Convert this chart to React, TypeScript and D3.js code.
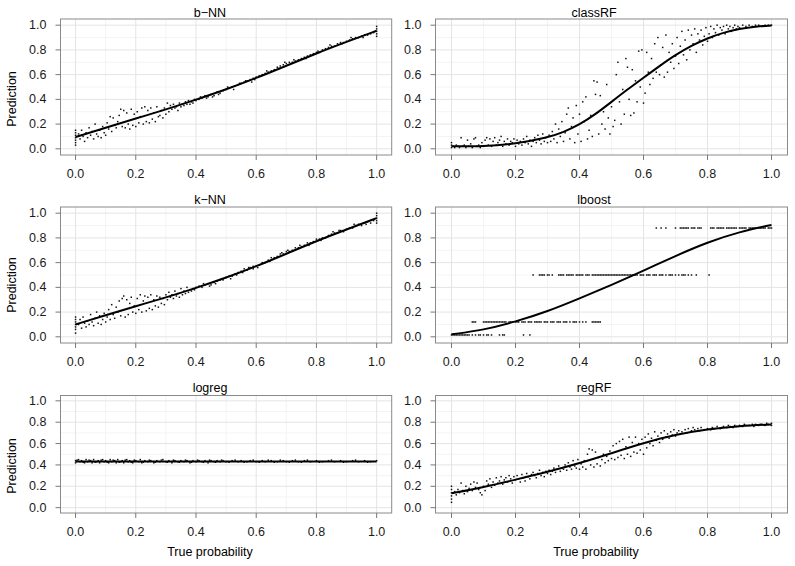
import React from "react";
import * as d3 from "d3";

type P = [number, number];

const TITLES = ["b\u2212NN", "classRF", "k\u2212NN", "lboost", "logreg", "regRF"];
const TICKS = [0, 0.2, 0.4, 0.6, 0.8, 1.0];
const MINOR = [0.1, 0.3, 0.5, 0.7, 0.9];
const X_LABEL = "True probability";
const Y_LABEL = "Prediction";

// ---------- smooth lines ----------
const bnnLine: P[] = [[0, 0.095], [0.1, 0.17], [0.2, 0.245], [0.3, 0.318], [0.4, 0.397], [0.5, 0.48], [0.6, 0.572], [0.7, 0.672], [0.8, 0.772], [0.9, 0.865], [1, 0.955]];
const knnLine: P[] = [[0, 0.1], [0.1, 0.175], [0.2, 0.248], [0.3, 0.318], [0.4, 0.395], [0.5, 0.478], [0.6, 0.57], [0.7, 0.672], [0.8, 0.775], [0.9, 0.868], [1, 0.96]];
const classRFLine: P[] = [[0, 0.02], [0.1, 0.02], [0.2, 0.04], [0.3, 0.09], [0.35, 0.135], [0.4, 0.195], [0.45, 0.28], [0.5, 0.38], [0.55, 0.48], [0.6, 0.575], [0.65, 0.67], [0.7, 0.76], [0.75, 0.835], [0.8, 0.895], [0.85, 0.94], [0.9, 0.97], [0.95, 0.99], [1, 0.997]];
const lboostLine: P[] = [[0, 0.02], [0.1, 0.055], [0.2, 0.122], [0.3, 0.205], [0.4, 0.31], [0.5, 0.42], [0.6, 0.534], [0.7, 0.655], [0.8, 0.765], [0.9, 0.85], [1, 0.905]];
const logregLine: P[] = [[0, 0.432], [0.5, 0.432], [1, 0.432]];
const regRFLine: P[] = [[0, 0.134], [0.1, 0.192], [0.2, 0.262], [0.3, 0.334], [0.4, 0.415], [0.5, 0.51], [0.6, 0.605], [0.7, 0.685], [0.8, 0.735], [0.9, 0.765], [1, 0.779]];

// ---------- points ----------
const bnnPts: P[] = [
  [0, 0.03], [0, 0.05], [0, 0.07], [0, 0.09], [0, 0.11], [0, 0.13], [0, 0.15],
  [0.01, 0.12], [0.015, 0.08], [0.02, 0.15], [0.025, 0.1], [0.03, 0.06], [0.035, 0.13], [0.04, 0.09], [0.045, 0.17], [0.05, 0.11], [0.055, 0.14], [0.06, 0.08], [0.065, 0.2], [0.07, 0.12], [0.075, 0.1], [0.08, 0.15], [0.085, 0.09], [0.09, 0.18], [0.095, 0.13], [0.1, 0.11],
  [0.105, 0.21], [0.11, 0.16], [0.115, 0.26], [0.12, 0.14], [0.125, 0.25], [0.13, 0.19], [0.135, 0.17], [0.14, 0.22], [0.145, 0.27], [0.15, 0.32], [0.155, 0.18], [0.16, 0.31], [0.165, 0.17], [0.17, 0.29], [0.175, 0.2], [0.18, 0.16], [0.185, 0.32], [0.19, 0.19], [0.195, 0.28], [0.2, 0.18],
  [0.205, 0.3], [0.21, 0.21], [0.215, 0.26], [0.22, 0.33], [0.225, 0.2], [0.23, 0.34], [0.235, 0.22], [0.24, 0.31], [0.245, 0.21], [0.25, 0.33], [0.255, 0.24], [0.26, 0.29], [0.265, 0.22], [0.27, 0.34], [0.275, 0.26], [0.28, 0.27], [0.285, 0.31], [0.29, 0.25], [0.295, 0.33], [0.3, 0.28],
  [0.305, 0.37], [0.31, 0.3], [0.315, 0.35], [0.32, 0.32], [0.325, 0.36], [0.33, 0.33], [0.335, 0.34], [0.34, 0.31], [0.345, 0.37], [0.35, 0.34], [0.355, 0.36], [0.36, 0.35], [0.365, 0.38], [0.37, 0.36], [0.375, 0.39], [0.38, 0.36], [0.385, 0.38], [0.39, 0.37], [0.395, 0.4], [0.4, 0.39],
  [0.41, 0.4], [0.42, 0.41], [0.43, 0.43], [0.44, 0.42], [0.45, 0.44], [0.46, 0.43], [0.47, 0.46], [0.48, 0.45], [0.49, 0.47], [0.5, 0.48], [0.51, 0.49], [0.52, 0.5], [0.53, 0.51], [0.54, 0.52], [0.55, 0.53], [0.56, 0.54], [0.57, 0.55], [0.58, 0.56], [0.59, 0.57], [0.6, 0.58],
  [0.415, 0.42], [0.435, 0.41], [0.455, 0.42], [0.475, 0.44], [0.505, 0.5], [0.525, 0.48], [0.545, 0.53], [0.565, 0.55], [0.585, 0.54], [0.595, 0.56],
  [0.61, 0.59], [0.62, 0.6], [0.63, 0.61], [0.64, 0.62], [0.65, 0.63], [0.66, 0.64], [0.67, 0.66], [0.68, 0.67], [0.69, 0.68], [0.7, 0.69], [0.71, 0.7], [0.72, 0.7], [0.73, 0.71], [0.74, 0.72], [0.75, 0.73], [0.76, 0.74], [0.77, 0.75], [0.78, 0.76], [0.79, 0.77], [0.8, 0.78],
  [0.81, 0.78], [0.82, 0.8], [0.83, 0.81], [0.84, 0.82], [0.85, 0.83], [0.86, 0.83], [0.87, 0.85], [0.88, 0.86], [0.89, 0.86], [0.9, 0.87], [0.91, 0.88], [0.92, 0.89], [0.93, 0.9], [0.94, 0.9], [0.95, 0.91], [0.96, 0.92], [0.97, 0.92], [0.98, 0.93], [0.99, 0.94],
  [0.635, 0.63], [0.675, 0.65], [0.695, 0.7], [0.725, 0.72], [0.765, 0.73], [0.805, 0.79], [0.845, 0.84], [0.885, 0.85], [0.915, 0.9], [0.955, 0.9],
  [1, 0.91], [1, 0.93], [1, 0.95], [1, 0.97], [1, 0.99],
];

const knnPts: P[] = [
  [0, 0.03], [0, 0.06], [0, 0.08], [0, 0.1], [0, 0.12], [0, 0.14], [0, 0.16],
  [0.01, 0.1], [0.015, 0.14], [0.02, 0.07], [0.025, 0.16], [0.03, 0.11], [0.035, 0.08], [0.04, 0.13], [0.045, 0.1], [0.05, 0.18], [0.055, 0.12], [0.06, 0.09], [0.065, 0.15], [0.07, 0.2], [0.075, 0.11], [0.08, 0.17], [0.085, 0.1], [0.09, 0.14], [0.095, 0.19], [0.1, 0.12],
  [0.105, 0.16], [0.11, 0.22], [0.115, 0.14], [0.12, 0.26], [0.125, 0.18], [0.13, 0.15], [0.135, 0.24], [0.14, 0.2], [0.145, 0.29], [0.15, 0.17], [0.155, 0.31], [0.16, 0.33], [0.165, 0.16], [0.17, 0.3], [0.175, 0.18], [0.18, 0.27], [0.185, 0.32], [0.19, 0.2], [0.195, 0.25], [0.2, 0.19],
  [0.205, 0.31], [0.21, 0.22], [0.215, 0.34], [0.22, 0.2], [0.225, 0.29], [0.23, 0.33], [0.235, 0.21], [0.24, 0.32], [0.245, 0.23], [0.25, 0.34], [0.255, 0.22], [0.26, 0.3], [0.265, 0.25], [0.27, 0.33], [0.275, 0.24], [0.28, 0.32], [0.285, 0.27], [0.29, 0.31], [0.295, 0.26], [0.3, 0.34],
  [0.305, 0.3], [0.31, 0.36], [0.315, 0.32], [0.32, 0.34], [0.325, 0.31], [0.33, 0.37], [0.335, 0.33], [0.34, 0.35], [0.345, 0.32], [0.35, 0.39], [0.355, 0.34], [0.36, 0.37], [0.365, 0.35], [0.37, 0.4], [0.375, 0.36], [0.38, 0.38], [0.385, 0.37], [0.39, 0.39], [0.395, 0.38], [0.4, 0.4],
  [0.41, 0.41], [0.42, 0.4], [0.43, 0.42], [0.44, 0.43], [0.45, 0.42], [0.46, 0.44], [0.47, 0.45], [0.48, 0.46], [0.49, 0.46], [0.5, 0.48], [0.51, 0.49], [0.52, 0.49], [0.53, 0.51], [0.54, 0.52], [0.55, 0.53], [0.56, 0.55], [0.57, 0.54], [0.58, 0.56], [0.59, 0.57], [0.6, 0.57],
  [0.425, 0.43], [0.445, 0.41], [0.465, 0.43], [0.485, 0.47], [0.515, 0.47], [0.535, 0.5], [0.555, 0.52], [0.575, 0.56], [0.59, 0.55], [0.605, 0.56],
  [0.61, 0.58], [0.62, 0.6], [0.63, 0.6], [0.64, 0.62], [0.65, 0.64], [0.66, 0.64], [0.67, 0.65], [0.68, 0.67], [0.69, 0.67], [0.7, 0.69], [0.71, 0.69], [0.72, 0.7], [0.73, 0.72], [0.74, 0.72], [0.75, 0.73], [0.76, 0.74], [0.77, 0.76], [0.78, 0.76], [0.79, 0.77], [0.8, 0.79],
  [0.81, 0.79], [0.82, 0.8], [0.83, 0.8], [0.84, 0.82], [0.85, 0.83], [0.86, 0.84], [0.87, 0.84], [0.88, 0.86], [0.89, 0.85], [0.9, 0.87], [0.91, 0.88], [0.92, 0.88], [0.93, 0.9], [0.94, 0.91], [0.95, 0.9], [0.96, 0.92], [0.97, 0.93], [0.98, 0.92], [0.99, 0.94],
  [0.645, 0.61], [0.685, 0.68], [0.705, 0.7], [0.745, 0.74], [0.775, 0.74], [0.815, 0.78], [0.855, 0.85], [0.875, 0.86], [0.925, 0.91], [0.965, 0.91],
  [1, 0.92], [1, 0.94], [1, 0.96], [1, 0.98], [1, 1.0],
];

const classRFPts: P[] = [
  [0, 0.01], [0, 0.03], [0, 0.05], [0.005, 0.02], [0.01, 0.01], [0.015, 0.03], [0.02, 0.02], [0.025, 0.01], [0.03, 0.09], [0.035, 0.02], [0.04, 0.03], [0.045, 0.01], [0.05, 0.07], [0.055, 0.02], [0.06, 0.04], [0.065, 0.01], [0.07, 0.08], [0.075, 0.09], [0.08, 0.02], [0.085, 0.03], [0.09, 0.01], [0.095, 0.05], [0.1, 0.02],
  [0.105, 0.07], [0.11, 0.09], [0.115, 0.03], [0.12, 0.08], [0.125, 0.02], [0.13, 0.06], [0.135, 0.09], [0.14, 0.03], [0.145, 0.05], [0.15, 0.07], [0.155, 0.1], [0.16, 0.02], [0.165, 0.06], [0.17, 0.04], [0.175, 0.08], [0.18, 0.03], [0.185, 0.06], [0.19, 0.05], [0.195, 0.08], [0.2, 0.02],
  [0.205, 0.07], [0.21, 0.04], [0.215, 0.06], [0.22, 0.03], [0.225, 0.08], [0.23, 0.05], [0.235, 0.1], [0.24, 0.04], [0.245, 0.07], [0.25, 0.02], [0.255, 0.06], [0.26, 0.09], [0.265, 0.05], [0.27, 0.11], [0.275, 0.07], [0.28, 0.04], [0.285, 0.12], [0.29, 0.06], [0.295, 0.09], [0.3, 0.05],
  [0.305, 0.11], [0.31, 0.06], [0.315, 0.14], [0.32, 0.08], [0.325, 0.2], [0.33, 0.05], [0.335, 0.16], [0.34, 0.1], [0.345, 0.22], [0.35, 0.06], [0.355, 0.13], [0.36, 0.28], [0.365, 0.33], [0.37, 0.08], [0.375, 0.18], [0.38, 0.25], [0.385, 0.05], [0.39, 0.35], [0.395, 0.12], [0.4, 0.28],
  [0.405, 0.06], [0.41, 0.38], [0.415, 0.22], [0.42, 0.42], [0.425, 0.08], [0.43, 0.15], [0.435, 0.27], [0.44, 0.1], [0.445, 0.55], [0.45, 0.44], [0.455, 0.54], [0.46, 0.12], [0.465, 0.43], [0.47, 0.2], [0.475, 0.3], [0.48, 0.16], [0.485, 0.52], [0.49, 0.25], [0.495, 0.12], [0.5, 0.34],
  [0.505, 0.18], [0.51, 0.23], [0.515, 0.6], [0.52, 0.7], [0.525, 0.38], [0.53, 0.2], [0.535, 0.48], [0.54, 0.28], [0.545, 0.73], [0.55, 0.66], [0.555, 0.4], [0.56, 0.27], [0.565, 0.64], [0.57, 0.29], [0.575, 0.55], [0.58, 0.38], [0.585, 0.79], [0.59, 0.5], [0.595, 0.8], [0.6, 0.37],
  [0.605, 0.45], [0.61, 0.78], [0.615, 0.62], [0.62, 0.52], [0.625, 0.73], [0.63, 0.57], [0.635, 0.85], [0.64, 0.62], [0.645, 0.9], [0.65, 0.6], [0.655, 0.68], [0.66, 0.82], [0.665, 0.58], [0.67, 0.92], [0.675, 0.62], [0.68, 0.78], [0.685, 0.7], [0.69, 0.85], [0.695, 0.65], [0.7, 0.75],
  [0.705, 0.9], [0.71, 0.69], [0.715, 0.83], [0.72, 0.95], [0.725, 0.76], [0.73, 0.88], [0.735, 0.72], [0.74, 0.96], [0.745, 0.8], [0.75, 0.92], [0.755, 0.85], [0.76, 0.97], [0.765, 0.78], [0.77, 0.93], [0.775, 0.88], [0.78, 0.96], [0.785, 0.84], [0.79, 0.91], [0.795, 0.98], [0.8, 0.87],
  [0.805, 0.93], [0.81, 0.99], [0.815, 0.9], [0.82, 0.97], [0.825, 0.94], [0.83, 1], [0.835, 0.92], [0.84, 0.98], [0.845, 0.96], [0.85, 0.99], [0.855, 0.93], [0.86, 1], [0.865, 0.97], [0.87, 0.99], [0.875, 0.95], [0.88, 0.98], [0.885, 1], [0.89, 0.97], [0.895, 0.99], [0.9, 0.98], [0.91, 1], [0.92, 0.99], [0.93, 1], [0.94, 0.99], [0.95, 1], [0.96, 1], [0.97, 0.99], [0.98, 1], [0.99, 1], [1, 1],
];

// lboost: predictions take four discrete levels
const lboostLevels = [0.015, 0.12, 0.5, 0.88];
const lboostX0 = [0, 0.005, 0.01, 0.015, 0.02, 0.025, 0.03, 0.035, 0.04, 0.045, 0.05, 0.055, 0.065, 0.075, 0.085, 0.09, 0.1, 0.11, 0.115, 0.125, 0.15, 0.16, 0.165, 0.225, 0.245];
const lboostX1 = [0.065, 0.07, 0.075, 0.1, 0.105, 0.11, 0.115, 0.12, 0.125, 0.13, 0.135, 0.14, 0.145, 0.15, 0.155, 0.16, 0.165, 0.17, 0.18, 0.185, 0.19, 0.2, 0.205, 0.21, 0.22, 0.225, 0.23, 0.24, 0.245, 0.25, 0.26, 0.265, 0.27, 0.275, 0.28, 0.29, 0.295, 0.3, 0.31, 0.315, 0.32, 0.33, 0.335, 0.34, 0.35, 0.355, 0.36, 0.37, 0.38, 0.385, 0.39, 0.4, 0.41, 0.42, 0.44, 0.445, 0.45, 0.455, 0.46, 0.465];
const lboostX2 = [0.255, 0.275, 0.28, 0.285, 0.29, 0.3, 0.305, 0.315, 0.335, 0.34, 0.345, 0.35, 0.36, 0.365, 0.37, 0.375, 0.38, 0.39, 0.395, 0.4, 0.405, 0.41, 0.42, 0.425, 0.43, 0.44, 0.445, 0.45, 0.455, 0.46, 0.465, 0.47, 0.475, 0.48, 0.485, 0.49, 0.495, 0.5, 0.505, 0.51, 0.515, 0.52, 0.525, 0.53, 0.535, 0.54, 0.545, 0.55, 0.555, 0.56, 0.565, 0.57, 0.575, 0.58, 0.59, 0.595, 0.6, 0.61, 0.615, 0.62, 0.63, 0.635, 0.64, 0.65, 0.655, 0.66, 0.67, 0.68, 0.685, 0.69, 0.7, 0.71, 0.72, 0.725, 0.73, 0.74, 0.75, 0.765, 0.805];
const lboostX3 = [0.64, 0.655, 0.67, 0.7, 0.715, 0.72, 0.725, 0.73, 0.735, 0.74, 0.75, 0.755, 0.76, 0.77, 0.775, 0.78, 0.81, 0.815, 0.82, 0.83, 0.835, 0.84, 0.845, 0.85, 0.86, 0.865, 0.87, 0.875, 0.88, 0.885, 0.89, 0.9, 0.905, 0.91, 0.915, 0.92, 0.93, 0.935, 0.94, 0.945, 0.95, 0.96, 0.965, 0.97, 0.975, 0.98, 0.99, 0.995, 1.0];

const logregPts: P[] = [
  [0, 0.44], [0, 0.42], [0.01, 0.45], [0.015, 0.43], [0.02, 0.44], [0.03, 0.42], [0.035, 0.45], [0.04, 0.43], [0.05, 0.44], [0.055, 0.42], [0.06, 0.45], [0.07, 0.43], [0.075, 0.44], [0.08, 0.42], [0.09, 0.45], [0.095, 0.43], [0.1, 0.44], [0.11, 0.42], [0.115, 0.45], [0.12, 0.43], [0.13, 0.44], [0.135, 0.42], [0.14, 0.45], [0.15, 0.43], [0.155, 0.44], [0.16, 0.42], [0.17, 0.45], [0.175, 0.43], [0.18, 0.44], [0.19, 0.42], [0.2, 0.44],
  [0.21, 0.43], [0.215, 0.45], [0.22, 0.42], [0.23, 0.44], [0.24, 0.43], [0.25, 0.44], [0.26, 0.42], [0.27, 0.44], [0.28, 0.43], [0.29, 0.45], [0.3, 0.43], [0.31, 0.44], [0.32, 0.42], [0.33, 0.44], [0.34, 0.43], [0.35, 0.44], [0.36, 0.43], [0.37, 0.44], [0.38, 0.42], [0.39, 0.44], [0.4, 0.43],
  [0.41, 0.44], [0.42, 0.43], [0.43, 0.44], [0.44, 0.42], [0.45, 0.44], [0.46, 0.43], [0.47, 0.44], [0.48, 0.43], [0.49, 0.44], [0.5, 0.43], [0.52, 0.44], [0.54, 0.43], [0.55, 0.44], [0.57, 0.43], [0.58, 0.44], [0.6, 0.43], [0.62, 0.44], [0.63, 0.43], [0.65, 0.44], [0.67, 0.43], [0.69, 0.44],
  [0.7, 0.43], [0.72, 0.44], [0.74, 0.43], [0.76, 0.44], [0.78, 0.43], [0.8, 0.44], [0.82, 0.43], [0.84, 0.44], [0.86, 0.43], [0.88, 0.44], [0.9, 0.43], [0.92, 0.44], [0.94, 0.43], [0.96, 0.44], [0.98, 0.43], [1, 0.44],
  [0.005, 0.445], [0.025, 0.425], [0.045, 0.445], [0.065, 0.425], [0.085, 0.445], [0.105, 0.425], [0.125, 0.445], [0.145, 0.425], [0.165, 0.445], [0.185, 0.425], [0.195, 0.445], [0.225, 0.425], [0.245, 0.445], [0.265, 0.425], [0.285, 0.445], [0.305, 0.425], [0.325, 0.445], [0.345, 0.425], [0.365, 0.445], [0.385, 0.425], [0.405, 0.445], [0.425, 0.425], [0.445, 0.445], [0.465, 0.425], [0.485, 0.445], [0.51, 0.425], [0.53, 0.445], [0.56, 0.425], [0.59, 0.445], [0.61, 0.425], [0.64, 0.445], [0.66, 0.425], [0.68, 0.445], [0.71, 0.425], [0.73, 0.445], [0.75, 0.425], [0.77, 0.445], [0.81, 0.425], [0.85, 0.445], [0.89, 0.425], [0.93, 0.445], [0.97, 0.425],
];

const regRFPts: P[] = [
  [0, 0.05], [0, 0.08], [0, 0.11], [0, 0.14], [0, 0.17], [0, 0.2],
  [0.01, 0.15], [0.015, 0.12], [0.02, 0.17], [0.025, 0.14], [0.03, 0.23], [0.035, 0.16], [0.04, 0.13], [0.045, 0.2], [0.05, 0.15], [0.055, 0.18], [0.06, 0.22], [0.065, 0.16], [0.07, 0.24], [0.075, 0.19], [0.08, 0.23], [0.085, 0.17], [0.09, 0.14], [0.095, 0.12], [0.1, 0.2],
  [0.105, 0.16], [0.11, 0.25], [0.115, 0.22], [0.12, 0.27], [0.125, 0.19], [0.13, 0.24], [0.135, 0.21], [0.14, 0.28], [0.145, 0.23], [0.15, 0.25], [0.155, 0.29], [0.16, 0.22], [0.165, 0.26], [0.17, 0.28], [0.175, 0.24], [0.18, 0.3], [0.185, 0.27], [0.19, 0.23], [0.195, 0.29], [0.2, 0.26],
  [0.205, 0.3], [0.21, 0.27], [0.215, 0.24], [0.22, 0.31], [0.225, 0.28], [0.23, 0.25], [0.235, 0.32], [0.24, 0.29], [0.245, 0.27], [0.25, 0.31], [0.255, 0.33], [0.26, 0.3], [0.265, 0.28], [0.27, 0.32], [0.275, 0.35], [0.28, 0.3], [0.285, 0.33], [0.29, 0.29], [0.295, 0.34], [0.3, 0.32],
  [0.305, 0.35], [0.31, 0.31], [0.315, 0.34], [0.32, 0.37], [0.325, 0.33], [0.33, 0.36], [0.335, 0.39], [0.34, 0.34], [0.345, 0.37], [0.35, 0.36], [0.355, 0.4], [0.36, 0.35], [0.365, 0.42], [0.37, 0.38], [0.375, 0.36], [0.38, 0.44], [0.385, 0.39], [0.39, 0.37], [0.395, 0.45], [0.4, 0.36],
  [0.405, 0.41], [0.41, 0.38], [0.415, 0.44], [0.42, 0.36], [0.425, 0.5], [0.43, 0.55], [0.435, 0.4], [0.44, 0.54], [0.445, 0.38], [0.45, 0.52], [0.455, 0.41], [0.46, 0.47], [0.465, 0.39], [0.47, 0.45], [0.475, 0.5], [0.48, 0.42], [0.485, 0.48], [0.49, 0.44], [0.495, 0.53], [0.5, 0.46],
  [0.505, 0.58], [0.51, 0.45], [0.515, 0.6], [0.52, 0.47], [0.525, 0.62], [0.53, 0.49], [0.535, 0.64], [0.54, 0.46], [0.545, 0.57], [0.55, 0.5], [0.555, 0.66], [0.56, 0.48], [0.565, 0.61], [0.57, 0.52], [0.575, 0.66], [0.58, 0.51], [0.585, 0.6], [0.59, 0.54], [0.595, 0.64], [0.6, 0.5],
  [0.605, 0.66], [0.61, 0.56], [0.615, 0.69], [0.62, 0.6], [0.625, 0.65], [0.63, 0.58], [0.635, 0.71], [0.64, 0.63], [0.645, 0.67], [0.65, 0.61], [0.655, 0.7], [0.66, 0.64], [0.665, 0.72], [0.67, 0.66], [0.675, 0.69], [0.68, 0.65], [0.685, 0.71], [0.69, 0.68], [0.695, 0.73], [0.7, 0.67],
  [0.705, 0.7], [0.71, 0.72], [0.715, 0.69], [0.72, 0.71], [0.73, 0.73], [0.735, 0.7], [0.74, 0.74], [0.75, 0.72], [0.755, 0.75], [0.76, 0.73], [0.77, 0.74], [0.775, 0.72], [0.78, 0.75], [0.79, 0.73], [0.8, 0.74],
  [0.81, 0.73], [0.815, 0.75], [0.82, 0.74], [0.83, 0.76], [0.84, 0.74], [0.845, 0.75], [0.85, 0.76], [0.86, 0.75], [0.865, 0.77], [0.87, 0.76], [0.88, 0.75], [0.885, 0.77], [0.89, 0.76], [0.9, 0.77], [0.91, 0.76], [0.915, 0.78], [0.92, 0.77], [0.93, 0.77], [0.94, 0.78], [0.945, 0.76], [0.95, 0.78], [0.96, 0.77], [0.965, 0.78], [0.97, 0.78], [0.98, 0.77], [0.985, 0.79], [0.99, 0.78], [1, 0.77], [1, 0.79],
];

const lboostPts: P[] = [
  ...lboostX0.map((x) => [x, lboostLevels[0]] as P),
  ...lboostX1.map((x) => [x, lboostLevels[1]] as P),
  ...lboostX2.map((x) => [x, lboostLevels[2]] as P),
  ...lboostX3.map((x) => [x, lboostLevels[3]] as P),
];

const PANEL_POINTS = [bnnPts, classRFPts, knnPts, lboostPts, logregPts, regRFPts];
const PANEL_LINES = [bnnLine, classRFLine, knnLine, lboostLine, logregLine, regRFLine];

// ---------- layout ----------
const COLS = [
  { x0: 60.5, x1: 391.7, titleX: 210, xLabX: 210 },
  { x0: 435.5, x1: 787.5, titleX: 594, xLabX: 596 },
];
const ROWS = [
  { y0: 19, y1: 155, titleY: 16.5, yLabY: 99 },
  { y0: 207, y1: 343, titleY: 204, yLabY: 285 },
  { y0: 395.5, y1: 513, titleY: 391.5, yLabY: 466 },
];

const FONT = "'Liberation Sans', Arial, Helvetica, sans-serif";

function Panel({ idx }: { idx: number }) {
  const col = COLS[idx % 2];
  const row = ROWS[Math.floor(idx / 2)];
  const isBottom = Math.floor(idx / 2) === 2;
  const isLeft = idx % 2 === 0;
  const x = d3.scaleLinear().domain([-0.05, 1.05]).range([col.x0, col.x1]);
  const y = d3.scaleLinear().domain([-0.05, 1.05]).range([row.y1, row.y0]);
  const line = d3
    .line<P>()
    .x((d) => x(d[0]))
    .y((d) => y(d[1]))
    .curve(d3.curveBasis);
  const pts = PANEL_POINTS[idx];
  return (
    <g>
      <rect x={col.x0} y={row.y0} width={col.x1 - col.x0} height={row.y1 - row.y0} fill="#fff" />
      {MINOR.map((v) => (
        <g key={"mn" + v}>
          <line x1={x(v)} x2={x(v)} y1={row.y0} y2={row.y1} stroke="#f4f4f4" strokeWidth={1} />
          <line x1={col.x0} x2={col.x1} y1={y(v)} y2={y(v)} stroke="#f4f4f4" strokeWidth={1} />
        </g>
      ))}
      {TICKS.map((v) => (
        <g key={"mj" + v}>
          <line x1={x(v)} x2={x(v)} y1={row.y0} y2={row.y1} stroke="#e4e4e4" strokeWidth={1} />
          <line x1={col.x0} x2={col.x1} y1={y(v)} y2={y(v)} stroke="#e4e4e4" strokeWidth={1} />
        </g>
      ))}
      {pts.map((p, i) => (
        <rect key={i} x={x(p[0]) - 0.75} y={y(p[1]) - 0.75} width={1.5} height={1.5} fill="#111" />
      ))}
      <path d={line(PANEL_LINES[idx]) || ""} fill="none" stroke="#000" strokeWidth={2} />
      <rect x={col.x0} y={row.y0} width={col.x1 - col.x0} height={row.y1 - row.y0} fill="none" stroke="#8a8a8a" strokeWidth={1} />
      {TICKS.map((v) => (
        <g key={"t" + v}>
          <line x1={col.x0 - 5} x2={col.x0} y1={y(v)} y2={y(v)} stroke="#777" />
          <text x={col.x0 - 14} y={y(v)} textAnchor="end" dominantBaseline="central" fontSize={12.5} fill="#1a1a1a" fontFamily={FONT}>
            {v.toFixed(1)}
          </text>
          <line x1={x(v)} x2={x(v)} y1={row.y1} y2={row.y1 + 5} stroke="#777" />
          <text x={x(v)} y={row.y1 + 22.5} textAnchor="middle" fontSize={12.5} fill="#1a1a1a" fontFamily={FONT}>
            {v.toFixed(1)}
          </text>
        </g>
      ))}
      <text x={col.titleX} y={row.titleY} textAnchor="middle" fontSize={12.5} fill="#000" fontFamily={FONT}>
        {TITLES[idx]}
      </text>
      {isLeft && (
        <text
          transform={`translate(12,${row.yLabY}) rotate(-90)`}
          textAnchor="middle"
          dominantBaseline="central"
          fontSize={12.5}
          fill="#000"
          fontFamily={FONT}
        >
          {Y_LABEL}
        </text>
      )}
      {isBottom && (
        <text x={col.xLabX} y={556} textAnchor="middle" fontSize={12.5} fill="#000" fontFamily={FONT}>
          {X_LABEL}
        </text>
      )}
    </g>
  );
}

export default function App() {
  return (
    <svg
      width={795}
      height={566}
      viewBox="0 0 795 566"
      style={{ position: "absolute", left: 0, top: 0, background: "#fff" }}
    >
      <rect x={0} y={0} width={795} height={566} fill="#fff" />
      {[0, 1, 2, 3, 4, 5].map((i) => (
        <Panel key={i} idx={i} />
      ))}
    </svg>
  );
}
